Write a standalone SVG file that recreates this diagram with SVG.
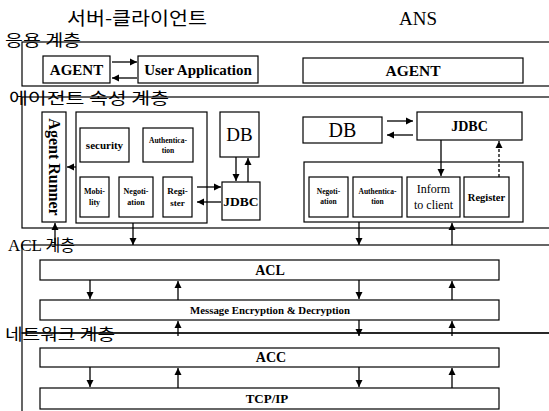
<svg xmlns="http://www.w3.org/2000/svg" width="549" height="411" viewBox="0 0 549 411">
<defs>
<marker id="ah" markerUnits="userSpaceOnUse" markerWidth="8" markerHeight="8" refX="7" refY="4" orient="auto">
<path d="M0,0.5 L7,4 L0,7.5 Z" fill="#000"/>
</marker>
<style>
.box{fill:#fff;stroke:#000;stroke-width:1.2}
.layer{fill:none;stroke:#000;stroke-width:1.2}
.con{stroke:#000;stroke-width:1.3;fill:none;marker-end:url(#ah)}
.ko{font-family:"Noto Sans CJK KR","Noto Sans",sans-serif;fill:#000}
.t{font-family:"Liberation Serif","Times New Roman",serif;font-weight:bold;fill:#000;text-anchor:middle}
.r{font-family:"Liberation Serif","Times New Roman",serif;fill:#000;text-anchor:middle}
.lat{font-family:"Liberation Serif","Times New Roman",serif}
</style>
</defs>
<rect width="549" height="411" fill="#fff"/>

<g id="titles">
<text class="ko" x="67" y="25" font-size="18" textLength="140" lengthAdjust="spacingAndGlyphs">서버-클라이언트</text>
<text class="r" x="418" y="25" font-size="19">ANS</text>
</g>

<g id="layers">
<rect class="layer" x="22" y="42" width="540" height="44"/>
<rect class="layer" x="22" y="97" width="540" height="131"/>
<rect class="layer" x="22" y="245" width="540" height="88"/>
<rect class="layer" x="22" y="333" width="540" height="90"/>
<text class="ko" x="5" y="46" font-size="16" textLength="76" lengthAdjust="spacingAndGlyphs">응용 계층</text>
<text class="ko" x="9" y="104" font-size="16" textLength="160" lengthAdjust="spacingAndGlyphs">에이전트 속성 계층</text>
<text class="ko" x="8" y="251" font-size="16"><tspan class="lat" font-size="17">ACL</tspan> 계층</text>
<text class="ko" x="5" y="340" font-size="16" textLength="110" lengthAdjust="spacingAndGlyphs">네트워크 계층</text>
</g>

<g id="agent-left">
<rect class="box" x="43" y="56" width="67" height="27"/>
<text class="t" x="76.5" y="75" font-size="15">AGENT</text>
</g>
<g id="user-application">
<rect class="box" x="138" y="56" width="120" height="27"/>
<text class="t" x="198" y="75" font-size="15">User Application</text>
</g>
<g id="agent-ans">
<rect class="box" x="303" y="58" width="220" height="25"/>
<text class="t" x="413" y="76" font-size="15.5">AGENT</text>
</g>

<g id="agent-runner">
<rect class="box" x="42" y="112" width="24" height="110"/>
<text class="t" font-size="16" transform="translate(48.5 167) rotate(90)">Agent Runner</text>
</g>
<g id="modules-left">
<rect class="box" x="76" y="112" width="131" height="111"/>
</g>
<g id="security">
<rect class="box" x="80" y="128" width="49" height="34"/>
<text class="t" x="104.5" y="149" font-size="11">security</text>
</g>
<g id="authentication-left">
<rect class="box" x="143" y="128" width="50" height="34"/>
<text class="t" x="168" y="143" font-size="7.5">Authentica-</text>
<text class="t" x="168" y="153" font-size="7.5">tion</text>
</g>
<g id="mobility">
<rect class="box" x="80" y="177" width="29" height="40"/>
<text class="t" x="94.5" y="194" font-size="8">Mobi-</text>
<text class="t" x="94.5" y="205" font-size="8">lity</text>
</g>
<g id="negotiation-left">
<rect class="box" x="119" y="177" width="34" height="40"/>
<text class="t" x="136" y="194" font-size="8">Negoti-</text>
<text class="t" x="136" y="205" font-size="8">ation</text>
</g>
<g id="register-left">
<rect class="box" x="163" y="177" width="29" height="40"/>
<text class="t" x="177.5" y="194" font-size="9">Regi-</text>
<text class="t" x="177.5" y="206" font-size="9">ster</text>
</g>
<g id="db-left">
<rect class="box" x="220" y="112" width="39" height="45"/>
<text class="r" x="239.5" y="141" font-size="19">DB</text>
</g>
<g id="jdbc-left">
<rect class="box" x="222" y="182" width="38" height="38"/>
<text class="t" x="241" y="206" font-size="13.5">JDBC</text>
</g>

<g id="db-ans">
<rect class="box" x="303" y="117" width="79" height="26"/>
<text class="r" x="342.5" y="137" font-size="20">DB</text>
</g>
<g id="jdbc-ans">
<rect class="box" x="417" y="112" width="105" height="28"/>
<text class="t" x="469.5" y="131" font-size="14">JDBC</text>
</g>
<g id="modules-ans">
<rect class="box" x="304" y="162" width="219" height="60"/>
</g>
<g id="negotiation-ans">
<rect class="box" x="309" y="177" width="39" height="40"/>
<text class="t" x="328.5" y="194" font-size="7.5">Negoti-</text>
<text class="t" x="328.5" y="204" font-size="7.5">ation</text>
</g>
<g id="authentication-ans">
<rect class="box" x="353" y="177" width="49" height="40"/>
<text class="t" x="377.5" y="194" font-size="7.5">Authentica-</text>
<text class="t" x="377.5" y="204" font-size="7.5">tion</text>
</g>
<g id="inform-to-client">
<rect class="box" x="407" y="177" width="53" height="40"/>
<text class="r" x="433.5" y="193" font-size="12">Inform</text>
<text class="r" x="433.5" y="209" font-size="12">to client</text>
</g>
<g id="register-ans">
<rect class="box" x="464" y="177" width="45" height="40"/>
<text class="t" x="486.5" y="201" font-size="10.5">Register</text>
</g>

<g id="acl">
<rect class="box" x="40" y="260" width="459" height="20"/>
<text class="t" x="270" y="275" font-size="14">ACL</text>
</g>
<g id="message-encryption">
<rect class="box" x="40" y="300" width="459" height="20"/>
<text class="t" x="270" y="314" font-size="9.5" textLength="160" lengthAdjust="spacingAndGlyphs">Message Encryption &amp; Decryption</text>
</g>
<g id="acc">
<rect class="box" x="40" y="348" width="459" height="19"/>
<text class="t" x="271" y="362" font-size="14">ACC</text>
</g>
<g id="tcpip">
<rect class="box" x="40" y="388" width="459" height="21"/>
<text class="t" x="267" y="403" font-size="13">TCP/IP</text>
</g>

<g id="connectors">
<line class="con" x1="112" y1="62" x2="137" y2="62"/>
<line class="con" x1="137" y1="78" x2="112" y2="78"/>
<line class="con" x1="76" y1="167" x2="67" y2="167"/>
<line class="con" x1="236" y1="157" x2="236" y2="181"/>
<line class="con" x1="248" y1="182" x2="248" y2="158"/>
<line class="con" x1="197" y1="187" x2="221" y2="187"/>
<line class="con" x1="221" y1="202" x2="197" y2="202"/>
<line class="con" x1="387" y1="121" x2="413" y2="121"/>
<line class="con" x1="413" y1="135" x2="387" y2="135"/>
<line class="con" x1="441" y1="140" x2="441" y2="176"/>
<line class="con" x1="499" y1="177" x2="499" y2="141" stroke-dasharray="3 2"/>
<line class="con" x1="55" y1="245" x2="55" y2="223"/>
<line class="con" x1="133" y1="223" x2="133" y2="245"/>
<line class="con" x1="359" y1="222" x2="359" y2="245"/>
<line class="con" x1="452" y1="245" x2="452" y2="223"/>
<line class="con" x1="90" y1="280" x2="90" y2="299"/>
<line class="con" x1="178" y1="300" x2="178" y2="281"/>
<line class="con" x1="359" y1="280" x2="359" y2="299"/>
<line class="con" x1="452" y1="300" x2="452" y2="281"/>
<line class="con" x1="178" y1="336" x2="178" y2="321"/>
<line class="con" x1="359" y1="320" x2="359" y2="336"/>
<line class="con" x1="452" y1="336" x2="452" y2="321"/>
<line class="con" x1="90" y1="367" x2="90" y2="387"/>
<line class="con" x1="178" y1="388" x2="178" y2="368"/>
<line class="con" x1="359" y1="367" x2="359" y2="387"/>
<line class="con" x1="452" y1="388" x2="452" y2="368"/>
</g>
</svg>
